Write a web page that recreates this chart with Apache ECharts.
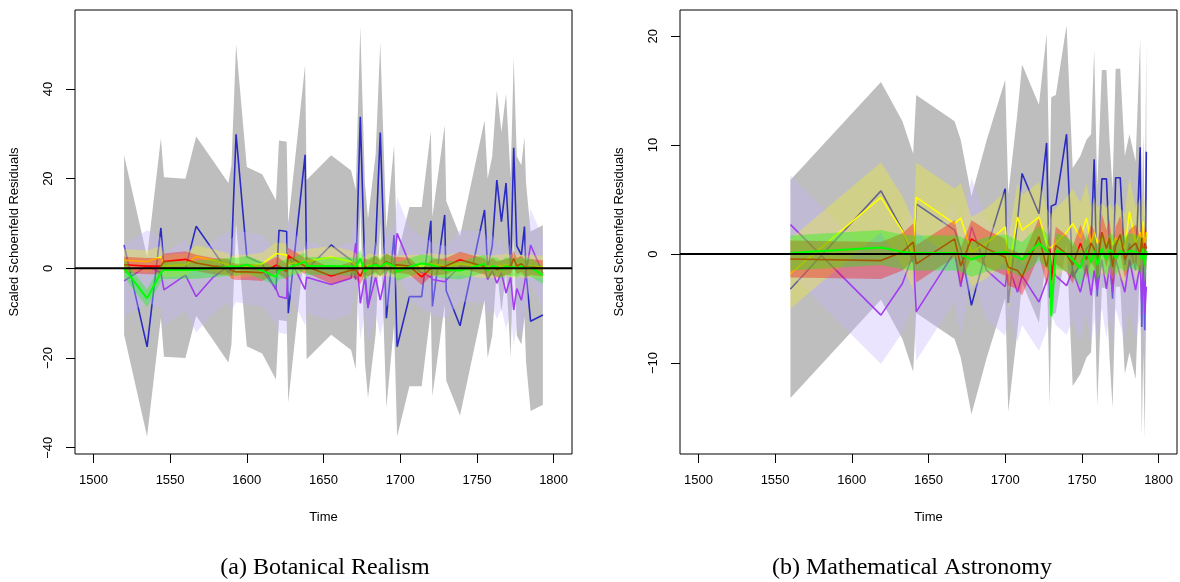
<!DOCTYPE html>
<html>
<head>
<meta charset="utf-8">
<script src="https://cdn.jsdelivr.net/npm/echarts@6/dist/echarts.min.js"></script>
<style>
  html, body { margin: 0; padding: 0; background: #fff; }
  #chart { width: 1180px; height: 582px; }
</style>
</head>
<body>
<div id="chart"></div>
<script>
// ---- (a) Botanical Realism: scaled Schoenfeld residuals over time ----
const timeA = [1520, 1535, 1544, 1546, 1560, 1567, 1578, 1588, 1590, 1593,
  1600, 1610, 1619, 1621, 1626, 1627, 1638, 1639, 1655, 1668,
  1671, 1674, 1677, 1679, 1684, 1687, 1691, 1696, 1698, 1706,
  1714, 1720, 1721, 1729, 1730, 1739, 1755, 1757, 1760, 1763,
  1766, 1769, 1772, 1774, 1776, 1779, 1781, 1782, 1785, 1793];
const blueA = [5.2, -17.5, 9.0, 0.3, 0.0, 9.4, 4.0, -1.0, 3.0, 29.9,
  2.6, 1.0, -4.8, 8.5, 8.2, -10.0, 25.3, -0.3, 5.2, 1.8,
  -2.5, 33.8, -1.0, -8.9, 5.4, 30.3, -11.1, 7.4, -17.5, -6.3,
  -6.3, 10.6, -8.5, 11.9, -5.0, -12.8, 13.0, 0.0, 5.0, 19.7,
  10.4, 19.0, 0.0, 26.9, 5.0, 3.0, 9.3, -0.8, -11.8, -10.4];
const purpleA = [-2.8, 0.5, -1.0, -4.8, -1.5, -6.3, -2.0, 0.5, -1.5, 0.5,
  0.0, -0.5, -4.5, -6.3, -6.7, 3.0, -4.7, -2.0, -3.6, -2.2,
  5.6, -7.8, -2.0, -8.6, -2.0, -7.1, -0.5, 1.0, 7.8, 1.1,
  -1.0, -2.0, -2.5, -3.0, -3.0, 0.5, 0.3, -2.5, -0.5, -3.3,
  -1.0, -5.5, -2.0, -9.3, -4.5, -7.1, -3.5, -1.0, 5.2, -1.1];
const yellowA = [1.8, 1.5, 2.5, 0.5, 0.8, 2.6, 1.8, 0.8, 0.0, 0.5,
  0.5, 1.0, 3.3, 3.2, 3.0, 1.0, 1.5, 1.8, 2.5, 1.5,
  0.8, 0.5, 0.0, 0.8, 0.5, 0.5, 0.8, 0.5, 0.3, 0.5,
  0.5, 1.0, 0.8, 0.5, 0.5, 1.0, 0.3, 0.5, 0.3, 0.5,
  0.5, 0.8, 0.5, 0.3, 0.5, 0.5, 0.3, 0.3, 0.5, 0.3];
const redA = [0.8, 0.5, 0.5, 1.5, 2.0, 1.2, 0.5, 0.3, -0.5, -0.8,
  -0.8, -1.0, 0.7, 0.5, -0.8, 2.8, 0.5, 0.8, -1.7, -0.4,
  -0.4, -1.8, 0.5, 0.0, 1.0, 0.0, 1.5, 0.5, 0.8, 0.5,
  -1.9, 0.0, 0.2, 0.4, 0.5, 1.9, 0.4, -0.5, 0.5, -0.3,
  0.0, 0.3, 0.5, 2.2, 0.5, 1.0, 0.3, 0.0, 0.3, 0.0];
const greenA = [0.0, -6.7, -1.0, -0.4, -0.4, -0.3, 0.0, 0.3, 0.5, 0.3,
  0.8, -0.5, -1.9, -0.5, 0.0, 0.0, 1.5, 0.5, 0.5, 0.4,
  0.3, 2.2, -0.8, 0.3, 0.8, 0.3, 1.2, 0.5, -0.8, 0.3,
  1.1, 0.8, 0.5, -0.3, -0.3, -0.5, 1.0, -0.5, 0.5, 0.3,
  -0.3, 0.5, 0.2, 0.3, 0.0, 0.5, 0.0, 0.3, 0.2, -1.5];
// half-widths of the confidence bands (blue, purple, yellow, red, green)
const bandWidthA = [20, 8, 2.5, 1.8, 2];
const yTicksA = [-40, -20, 0, 20, 40];

// ---- (b) Mathematical Astronomy ----
const timeB = [1560, 1619, 1633, 1640, 1642, 1667, 1671, 1678, 1688, 1700,
  1702, 1708, 1711, 1722, 1727, 1729, 1730, 1733, 1740, 1744,
  1749, 1753, 1756, 1758, 1760, 1763, 1766, 1768, 1770, 1772,
  1775, 1778, 1781, 1785, 1788, 1789, 1790, 1791, 1792];
const blueB = [-3.2, 5.8, 2.2, -0.8, 4.6, 2.2, 0.5, -4.7, 0.5, 6.0,
  -4.5, 3.0, 7.4, 3.7, 10.2, -4.0, 4.4, 4.6, 11.0, -2.1,
  -1.0, 0.5, 1.0, 8.7, -3.9, 6.9, 6.9, 0.5, -4.1, 7.0,
  7.0, -1.0, 1.0, -1.5, 9.8, -6.7, 1.0, -7.0, 9.4];
const purpleB = [2.7, -5.6, -2.7, 0.0, -5.3, 0.2, -3.0, 2.5, -1.5, -3.0,
  -1.0, -3.5, -2.0, -4.4, -2.5, -1.5, -1.0, -2.0, -2.9, -1.5,
  -3.5, -1.0, -3.8, -1.5, -3.3, -0.5, -3.2, -1.0, -3.5, -0.5,
  -2.0, -3.5, -0.5, -3.3, -1.0, -4.5, 0.5, -5.5, -3.0];
const yellowB = [-1.8, 5.2, 2.1, -0.1, 5.2, 2.8, 3.3, 0.2, 1.0, 2.5,
  -1.8, 3.4, 2.2, 3.4, 1.0, 0.5, 0.5, 1.0, 2.0, 2.8,
  1.5, 3.3, 1.0, 2.0, 1.0, 1.5, 1.0, 1.5, 0.8, 1.5,
  1.0, 0.5, 3.9, 1.0, 2.0, 0.5, 3.0, 0.5, 2.0];
const redB = [-0.45, -0.6, 0.2, 1.1, -0.9, 1.4, -1.1, 1.4, 0.5, -0.3,
  -1.2, -1.5, -2.1, 1.6, -1.2, 0.5, -2.4, 0.8, 0.0, -1.0,
  1.0, -0.5, 1.0, 0.5, -1.0, 2.0, 0.5, 1.5, -1.2, 0.8,
  1.8, -0.5, 0.5, 1.0, 0.0, 1.5, -0.5, 1.0, 0.5];
const greenB = [0.1, 0.6, 0.2, 0.1, 0.1, 0.1, 0.0, -0.5, 0.0, 0.2,
  0.1, -0.3, -0.5, 1.0, 0.3, 0.0, -5.7, 0.3, 0.0, -0.5,
  -1.3, 0.3, -0.8, 0.3, -1.0, 0.5, -0.5, 0.4, 0.2, -0.4,
  0.3, 0.0, 0.3, 0.2, 0.0, -0.5, 0.5, -1.0, 0.3];
const bandWidthB = [10, 4.5, 3.2, 1.7, 1.6];
const yTicksB = [-10, 0, 10, 20];

const xTicks = [1500, 1550, 1600, 1650, 1700, 1750, 1800];
const captions = ['(a) Botanical Realism', '(b) Mathematical Astronomy'];

// line colours and band fills, drawn in this order (later ones on top)
const lineColors = ['#2b2bc4', '#a23cf0', '#ffff00', '#ff0000', '#00ff00'];
const bandFills = ['#bebebe', 'rgba(200,180,255,0.36)', 'rgba(255,255,0,0.28)',
  'rgba(255,0,0,0.35)', 'rgba(0,255,0,0.35)'];

const FONT = 'Liberation Sans, Arial, Helvetica, sans-serif';
const plainNumber = v => String(v).replace('-', '\u2212');

function bandSeries(axis, times, vals, hw, fill, z) {
  return {
    type: 'custom', xAxisIndex: axis, yAxisIndex: axis, z: z, silent: true,
    clip: true,
    data: [[times[0], vals[0]]],
    renderItem: function (params, api) {
      const upper = times.map((t, i) => api.coord([t, vals[i] + hw]));
      const lower = times.map((t, i) => api.coord([t, vals[i] - hw])).reverse();
      return { type: 'polygon', shape: { points: upper.concat(lower) },
               style: { fill: fill } };
    }
  };
}

function lineSeries(axis, times, vals, color, z, width) {
  return {
    type: 'line', xAxisIndex: axis, yAxisIndex: axis, z: z, silent: true,
    showSymbol: false, animation: false,
    data: times.map((t, i) => [t, vals[i]]),
    lineStyle: { color: color, width: width }
  };
}

function panelSeries(axis, times, sets, widths) {
  const out = [];
  sets.forEach((vals, k) => {
    out.push(bandSeries(axis, times, vals, widths[k], bandFills[k], 2 + 2 * k));
    out.push(lineSeries(axis, times, vals, lineColors[k], 3 + 2 * k, k === 4 ? 2 : 1.6));
  });
  // reference line at zero
  out.push({
    type: 'line', xAxisIndex: axis, yAxisIndex: axis, z: 20, silent: true,
    showSymbol: false, data: [[1488, 0], [1812, 0]],
    lineStyle: { color: '#000', width: 2 }
  });
  return out;
}

function xAxisCfg(grid) {
  return {
    gridIndex: grid, type: 'value', min: 1488, max: 1812,
    axisLine: { show: false, onZero: false }, splitLine: { show: false },
    axisTick: { show: true, length: 9, customValues: xTicks,
                lineStyle: { color: '#000', width: 1 } },
    axisLabel: { customValues: xTicks, color: '#000', fontSize: 13,
                 fontFamily: FONT, margin: 20, formatter: plainNumber },
    name: 'Time', nameLocation: 'middle', nameGap: 57,
    nameTextStyle: { color: '#000', fontSize: 13, fontFamily: FONT }
  };
}

function yAxisCfg(grid, min, max, ticks) {
  return {
    gridIndex: grid, type: 'value', min: min, max: max,
    axisLine: { show: false, onZero: false }, splitLine: { show: false },
    axisTick: { show: true, length: 9, customValues: ticks,
                lineStyle: { color: '#000', width: 1 } },
    axisLabel: { customValues: ticks, color: '#000', fontSize: 13,
                 fontFamily: FONT, rotate: 90, margin: 20, formatter: plainNumber },
    name: 'Scaled Schoenfeld Residuals', nameLocation: 'middle', nameGap: 54,
    nameTextStyle: { color: '#000', fontSize: 13, fontFamily: FONT }
  };
}

const chart = echarts.init(document.getElementById('chart'), null, { renderer: 'canvas' });
chart.setOption({
  animation: false,
  backgroundColor: '#fff',
  grid: [
    { left: 75, top: 10, width: 497, height: 444, show: true,
      borderColor: '#000', borderWidth: 1, backgroundColor: 'transparent' },
    { left: 680, top: 10, width: 497, height: 444, show: true,
      borderColor: '#000', borderWidth: 1, backgroundColor: 'transparent' }
  ],
  xAxis: [xAxisCfg(0), xAxisCfg(1)],
  yAxis: [yAxisCfg(0, -41.4, 57.6, yTicksA), yAxisCfg(1, -18.35, 22.4, yTicksB)],
  series: [].concat(
    panelSeries(0, timeA, [blueA, purpleA, yellowA, redA, greenA], bandWidthA),
    panelSeries(1, timeB, [blueB, purpleB, yellowB, redB, greenB], bandWidthB)
  ),
  graphic: [
    { type: 'text', style: { text: captions[0], x: 325, y: 568,
      align: 'center', verticalAlign: 'middle', fill: '#000',
      font: '24px "Liberation Serif", "DejaVu Serif", serif' } },
    { type: 'text', style: { text: captions[1], x: 912, y: 568,
      align: 'center', verticalAlign: 'middle', fill: '#000',
      font: '24px "Liberation Serif", "DejaVu Serif", serif' } }
  ]
});
</script>
</body>
</html>
